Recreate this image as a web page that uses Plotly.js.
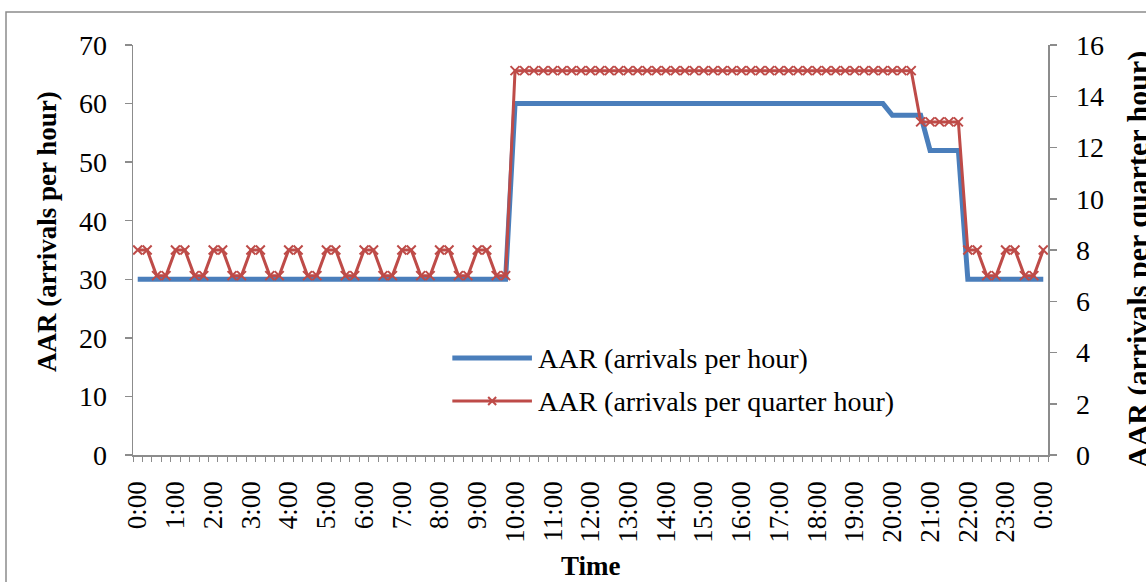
<!DOCTYPE html>
<html>
<head>
<meta charset="utf-8">
<script src="https://cdn.plot.ly/plotly-3.0.1.min.js"></script>
<style>
  html, body { margin: 0; padding: 0; background: #ffffff; }
  #chart { width: 1146px; height: 582px; }
</style>
</head>
<body>
<div id="chart"></div>
<script>
// Hour labels shown under the time axis (every fourth quarter-hour slot)
const hourLabels = ["0:00","1:00","2:00","3:00","4:00","5:00","6:00","7:00","8:00","9:00",
  "10:00","11:00","12:00","13:00","14:00","15:00","16:00","17:00","18:00","19:00",
  "20:00","21:00","22:00","23:00","0:00"];

// Airport arrival rate per hour, one value per 15-minute slot (0:00 .. 24:00)
const aarPerHour = [
  30,30,30,30, 30,30,30,30, 30,30,30,30, 30,30,30,30, 30,30,30,30,
  30,30,30,30, 30,30,30,30, 30,30,30,30, 30,30,30,30, 30,30,30,30,
  60,60,60,60, 60,60,60,60, 60,60,60,60, 60,60,60,60, 60,60,60,60,
  60,60,60,60, 60,60,60,60, 60,60,60,60, 60,60,60,60, 60,60,60,60,
  58,58,58,58, 52,52,52,52, 30,30,30,30, 30,30,30,30, 30
];

// Airport arrival rate per quarter hour, same slots
const aarPerQuarter = [
  8,8,7,7, 8,8,7,7, 8,8,7,7, 8,8,7,7, 8,8,7,7,
  8,8,7,7, 8,8,7,7, 8,8,7,7, 8,8,7,7, 8,8,7,7,
  15,15,15,15, 15,15,15,15, 15,15,15,15, 15,15,15,15, 15,15,15,15,
  15,15,15,15, 15,15,15,15, 15,15,15,15, 15,15,15,15, 15,15,15,15,
  15,15,15,13, 13,13,13,13, 8,8,7,7, 8,8,7,7, 8
];

const seriesNames = ["AAR (arrivals per hour)", "AAR (arrivals per quarter hour)"];

const BLUE = "#4A7EBB";
const RED = "#BE4B48";
const AXIS = "#8C8C8C";
const FONT = "Liberation Serif, Times New Roman, serif";

const slotIndex = aarPerQuarter.map((_, i) => i);
const hourTickVals = hourLabels.map((_, i) => i * 4);
const slotBoundaries = [];
for (let b = -0.5; b <= aarPerQuarter.length - 0.5; b += 1) slotBoundaries.push(b);

const traces = [
  {
    x: slotIndex, y: aarPerHour, name: seriesNames[0],
    type: "scatter", mode: "lines",
    line: { color: BLUE, width: 5 },
    yaxis: "y", showlegend: false
  },
  {
    x: slotIndex, y: aarPerQuarter, name: seriesNames[1],
    type: "scatter", mode: "lines+markers",
    line: { color: RED, width: 3 },
    marker: { symbol: "x-thin-open", size: 9, color: RED, line: { color: RED, width: 2 } },
    yaxis: "y2", showlegend: false
  }
];

// Legend drawn by hand so its line samples are long like the chart's lines
const legX0 = 0.349, legX1 = 0.436, legTextX = 0.44;
const legY1 = (455 - 358) / 410, legY2 = (455 - 401) / 410;
const legMid = (legX0 + legX1) / 2;
const xHalfW = 4 / 915, xHalfH = 4 / 410;

const layout = {
  width: 1146, height: 582,
  margin: { l: 133, r: 98, t: 45, b: 127 },
  paper_bgcolor: "#ffffff", plot_bgcolor: "#ffffff",
  font: { family: FONT, size: 27, color: "#000000" },
  showlegend: false,
  xaxis: {
    range: [-0.5, aarPerQuarter.length - 0.5],
    tickmode: "array", tickvals: hourTickVals, ticktext: hourLabels,
    tickangle: -90, ticks: "", ticklabelstandoff: 14,
    tickfont: { family: FONT, size: 27, color: "#000" },
    showline: true, linecolor: AXIS, linewidth: 1.5,
    showgrid: false, zeroline: false, fixedrange: true,
    minor: { tickmode: "array", tickvals: slotBoundaries, ticks: "outside", ticklen: 5, tickwidth: 1, tickcolor: AXIS, showgrid: false }
  },
  yaxis: {
    range: [0, 70], tickmode: "linear", tick0: 0, dtick: 10,
    ticks: "outside", ticklen: 7, tickwidth: 1.5, tickcolor: AXIS,
    ticklabelstandoff: 12,
    tickfont: { family: FONT, size: 28, color: "#000" },
    showline: true, linecolor: AXIS, linewidth: 1.5,
    showgrid: false, zeroline: false, fixedrange: true
  },
  yaxis2: {
    range: [0, 16], tickmode: "linear", tick0: 0, dtick: 2,
    overlaying: "y", side: "right",
    ticks: "outside", ticklen: 7, tickwidth: 1.5, tickcolor: AXIS,
    ticklabelstandoff: 14,
    tickfont: { family: FONT, size: 28, color: "#000" },
    showline: true, linecolor: AXIS, linewidth: 1.5,
    showgrid: false, zeroline: false, fixedrange: true
  },
  shapes: [
    // chart frame
    { type: "rect", xref: "paper", yref: "paper",
      x0: (6 - 133) / 915, x1: 1.3, y0: -0.5, y1: (455 - 12) / 410,
      line: { color: "#8C8C8C", width: 1.5 }, fillcolor: "rgba(0,0,0,0)", layer: "below" },
    // legend samples
    { type: "line", xref: "paper", yref: "paper", x0: legX0, x1: legX1, y0: legY1, y1: legY1,
      line: { color: BLUE, width: 5 } },
    { type: "line", xref: "paper", yref: "paper", x0: legX0, x1: legX1, y0: legY2, y1: legY2,
      line: { color: RED, width: 3 } },
    { type: "line", xref: "paper", yref: "paper",
      x0: legMid - xHalfW, x1: legMid + xHalfW, y0: legY2 - xHalfH, y1: legY2 + xHalfH,
      line: { color: RED, width: 2 } },
    { type: "line", xref: "paper", yref: "paper",
      x0: legMid - xHalfW, x1: legMid + xHalfW, y0: legY2 + xHalfH, y1: legY2 - xHalfH,
      line: { color: RED, width: 2 } }
  ],
  annotations: [
    { text: seriesNames[0], xref: "paper", yref: "paper", x: legTextX, y: legY1,
      xanchor: "left", yanchor: "middle", showarrow: false,
      font: { family: FONT, size: 28, color: "#000" } },
    { text: seriesNames[1], xref: "paper", yref: "paper", x: legTextX, y: legY2,
      xanchor: "left", yanchor: "middle", showarrow: false,
      font: { family: FONT, size: 28, color: "#000" } },
    { text: "<b>AAR (arrivals per hour)</b>", xref: "paper", yref: "paper",
      x: (47 - 133) / 915, y: (455 - 232) / 410, xanchor: "center", yanchor: "middle",
      textangle: -90, showarrow: false, font: { family: FONT, size: 27, color: "#000" } },
    { text: "<b>AAR (arrivals per quarter hour)</b>", xref: "paper", yref: "paper",
      x: (1138 - 133) / 915, y: (455 - 260) / 410, xanchor: "center", yanchor: "middle",
      textangle: -90, showarrow: false, font: { family: FONT, size: 30, color: "#000" } },
    { text: "<b>Time</b>", xref: "paper", yref: "paper",
      x: 0.5, y: (455 - 582) / 410, xanchor: "center", yanchor: "bottom", borderpad: 0,
      showarrow: false, font: { family: FONT, size: 27, color: "#000" } }
  ]
};

Plotly.newPlot("chart", traces, layout, { displayModeBar: false, staticPlot: true });
</script>
</body>
</html>
